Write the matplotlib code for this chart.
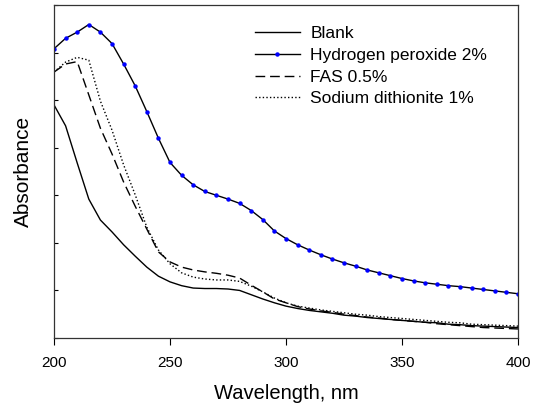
import numpy as np
import matplotlib
matplotlib.use("Agg")
import matplotlib.pyplot as plt

plt.rcParams["font.family"] = ["Liberation Sans", "DejaVu Sans"]

# Wavelength grid (nm), 5 nm steps
wavelength = list(range(200, 405, 5))

blank = [0.490, 0.446, 0.368, 0.292, 0.248, 0.223, 0.196, 0.172, 0.149, 0.130,
         0.118, 0.110, 0.105, 0.104, 0.104, 0.103, 0.100, 0.091, 0.082, 0.074,
         0.067, 0.062, 0.058, 0.055, 0.052, 0.048, 0.046, 0.043, 0.041, 0.039,
         0.037, 0.035, 0.033, 0.032, 0.029, 0.028, 0.026, 0.025, 0.024, 0.023,
         0.022]

h2o2 = [0.608, 0.630, 0.643, 0.659, 0.643, 0.619, 0.576, 0.530, 0.476, 0.420,
        0.369, 0.342, 0.322, 0.308, 0.300, 0.292, 0.283, 0.268, 0.249, 0.225,
        0.209, 0.196, 0.185, 0.175, 0.166, 0.158, 0.151, 0.143, 0.137, 0.131,
        0.125, 0.120, 0.116, 0.113, 0.110, 0.108, 0.105, 0.102, 0.099, 0.096,
        0.093]

fas = [0.559, 0.576, 0.581, 0.511, 0.441, 0.387, 0.328, 0.277, 0.229, 0.181,
       0.160, 0.149, 0.143, 0.139, 0.136, 0.132, 0.126, 0.111, 0.097, 0.082,
       0.074, 0.066, 0.061, 0.057, 0.054, 0.050, 0.047, 0.044, 0.042, 0.039,
       0.037, 0.035, 0.033, 0.030, 0.028, 0.026, 0.024, 0.022, 0.021, 0.020,
       0.019]

dithionite = [0.559, 0.580, 0.590, 0.584, 0.498, 0.437, 0.364, 0.301, 0.233, 0.185,
              0.156, 0.137, 0.128, 0.124, 0.122, 0.122, 0.119, 0.109, 0.097, 0.084,
              0.074, 0.067, 0.063, 0.059, 0.056, 0.053, 0.050, 0.048, 0.045, 0.043,
              0.041, 0.039, 0.037, 0.035, 0.033, 0.032, 0.029, 0.028, 0.027, 0.026,
              0.025]

fig = plt.figure(figsize=(5.37, 4.03), dpi=100)
ax = fig.add_axes([54 / 537, 65 / 403, 464 / 537, 333 / 403])

ax.plot(wavelength, blank, color="black", lw=1.0, label="Blank")
ax.plot(wavelength, h2o2, color="black", lw=1.0, marker="o", markersize=2.2,
        markerfacecolor="#0000ff", markeredgecolor="#0000ff",
        label="Hydrogen peroxide 2%")
ax.plot(wavelength, fas, color="black", lw=1.0, dashes=(7, 3.5), label="FAS 0.5%")
ax.plot(wavelength, dithionite, color="black", lw=1.0, dashes=(1, 1.6),
        label="Sodium dithionite 1%")

ax.set_xlim(200, 400)
ax.set_ylim(0, 0.7)
ax.set_xticks([200, 250, 300, 350, 400])
ax.set_yticks(np.arange(0, 0.71, 0.1))
ax.set_yticklabels([])
ax.tick_params(axis="x", direction="out", length=5, width=0.8, labelsize=11, pad=8)
ax.tick_params(axis="y", direction="in", length=3, width=0.8)
for s in ax.spines.values():
    s.set_linewidth(0.9)
    s.set_color("#333333")

ax.set_xlabel("Wavelength, nm", fontsize=14.5, labelpad=10)
ax.set_ylabel("Absorbance", fontsize=15, labelpad=12)

leg = ax.legend(loc="upper left", bbox_to_anchor=(0.433, 0.937), frameon=False,
                fontsize=12.5, handlelength=2.6, handletextpad=0.6,
                labelspacing=0.38, borderpad=0, borderaxespad=0)
for h in leg.legend_handles:
    h.set_markevery([1])

fig.savefig("out.png", dpi=100)
